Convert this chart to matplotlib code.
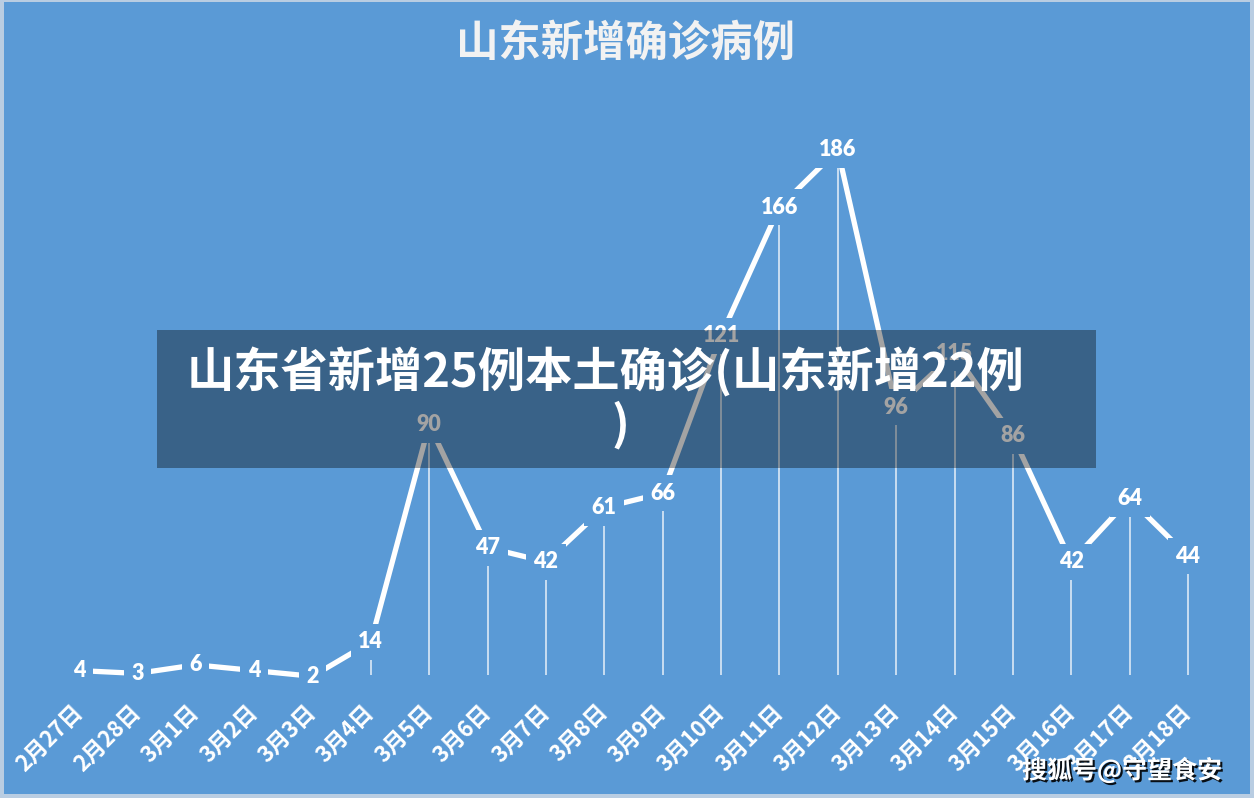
import matplotlib
matplotlib.use("Agg")
import matplotlib.pyplot as plt
from matplotlib.patches import Rectangle
import matplotlib.patheffects as pe

dates = ["2月27日", "2月28日", "3月1日", "3月2日", "3月3日", "3月4日", "3月5日",
         "3月6日", "3月7日", "3月8日", "3月9日", "3月10日", "3月11日", "3月12日",
         "3月13日", "3月14日", "3月15日", "3月16日", "3月17日", "3月18日"]
cases = [4, 3, 6, 4, 2, 14, 90, 47, 42, 61, 66, 121, 166, 186, 96, 115, 86, 42, 64, 44]
chart_title = "山东新增确诊病例"
banner_line1 = "山东省新增25例本土确诊(山东新增22例"
banner_line2 = ")"
watermark = "搜狐号@守望食安"

BG = "#5a9ad6"
BORDER = "#b9cde2"
CJK = ["Noto Sans CJK SC", "DejaVu Sans"]
NUM = ["Lato", "Noto Sans CJK SC", "DejaVu Sans"]

W, H = 1254, 798
fig = plt.figure(figsize=(W / 100, H / 100), dpi=100)
fig.patch.set_facecolor(BORDER)
fig.patches.append(Rectangle((4 / W, 4 / H), (W - 8) / W, (H - 6) / H,
                             transform=fig.transFigure, facecolor=BG,
                             edgecolor="none", zorder=-5))

# axes placement: value 0 sits at pixel row ~682 from top
ax = fig.add_axes([0, (H - 682) / H, 1, 682 / H])
ax.set_facecolor("none")
n = len(cases)
ax.set_xlim(-1.353, n - 1 + 1.131)
ax.set_ylim(0, 238.4)
for s in ax.spines.values():
    s.set_visible(False)

x = list(range(n))
baseline = 2.5
ax.vlines(x, baseline, cases, colors="white", linewidth=1.1, alpha=0.85, zorder=1)
ax.plot(x, cases, color="white", linewidth=3.8, solid_capstyle="butt", zorder=2)
for xi, v in zip(x, cases):
    ax.text(xi, v, str(v), ha="center", va="center", color="white",
            fontsize=15.5, fontweight="heavy", family=NUM, zorder=3,
            bbox=dict(boxstyle="square,pad=0.35", fc=BG, ec="none"))

ax.set_xticks(x)
ax.set_xticklabels(dates, rotation=45, ha="right", va="center",
                   rotation_mode="anchor", color="white", fontsize=16,
                   fontweight="bold", family=CJK)
ax.tick_params(axis="x", length=0, pad=19)
ax.set_yticks([])

fig.text(625 / W, 1 - 45 / H, chart_title, ha="center", va="center",
         color="#f2f2f2", fontsize=30.5, fontweight="heavy", family=CJK)

# banner overlay
fig.patches.append(Rectangle((157 / W, 1 - 468 / H), (1096 - 157) / W, (468 - 330) / H,
                             transform=fig.transFigure, facecolor="black",
                             alpha=0.36, edgecolor="none", zorder=10))
fig.text(605 / W, 1 - 372 / H, banner_line1, ha="center", va="center",
         color="white", fontsize=34, fontweight="black", family=CJK, zorder=11)
fig.text(620 / W, 1 - 425 / H, banner_line2, ha="center", va="center",
         color="white", fontsize=34, fontweight="black", family=CJK, zorder=11)

fig.text(1122 / W, 1 - 770 / H, watermark, ha="center", va="center",
         color="white", fontsize=18, fontweight="bold", family=CJK, zorder=12,
         path_effects=[pe.withSimplePatchShadow(offset=(1.5, -1.5),
                                                shadow_rgbFace="black", alpha=0.9)])

fig.savefig("out.png", dpi=100, facecolor=fig.get_facecolor())
